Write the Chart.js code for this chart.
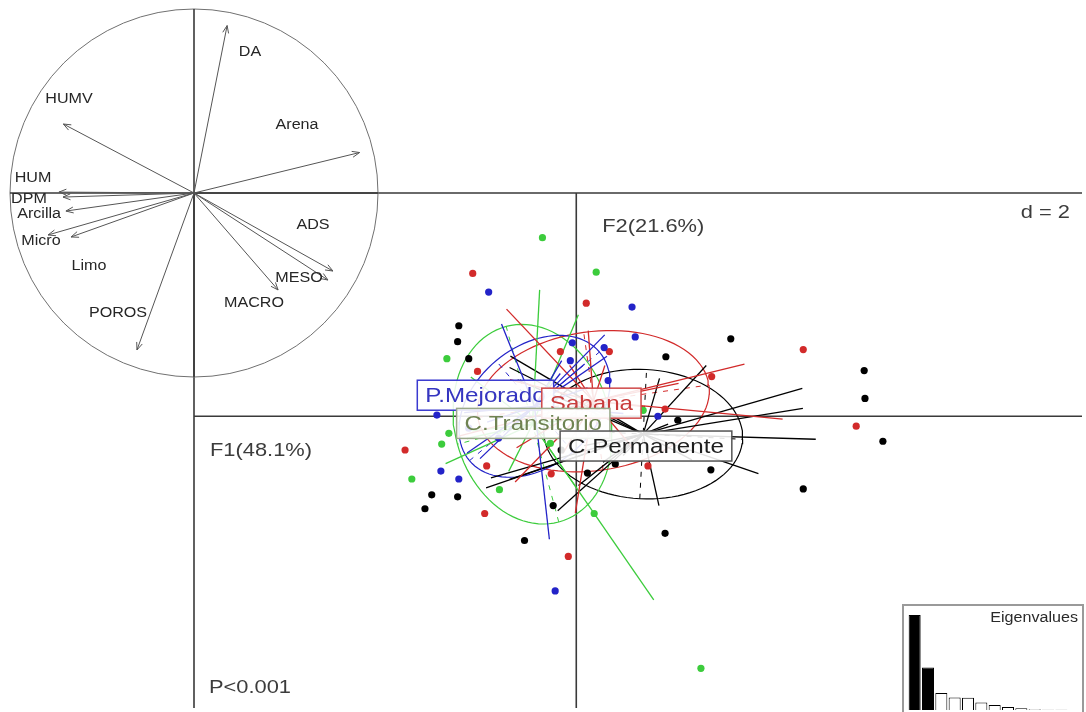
<!DOCTYPE html>
<html>
<head>
<meta charset="utf-8">
<script src="https://cdn.jsdelivr.net/npm/chart.js@4.4.1/dist/chart.umd.min.js"></script>
<style>
  html, body { margin: 0; padding: 0; background: #fff; }
  #wrap { position: relative; width: 1086px; height: 712px; overflow: hidden; background: #fff; }
  canvas { position: absolute; }
  #main { left: 0; top: 0; }
  #circle { left: 0; top: 0; }
  #eigen { left: 902px; top: 604px; }
</style>
</head>
<body>
<div id="wrap">
  <canvas id="main" width="1086" height="712"></canvas>
  <canvas id="circle" width="388" height="386"></canvas>
  <canvas id="eigen" width="184" height="108"></canvas>
</div>
<script>
// ---- class scores (F1, F2) per group ----
const groupNames = ['P.Mejorado', 'Sabana', 'C.Transitorio', 'C.Permanente'];

const pmX = [-2.20, 1.40, 1.48, -0.10, -0.15, 0.70, 0.80, -3.50, 2.05, -3.40, -2.95, -0.53, -2.70, -1.95];
const pmY = [3.13, 2.75, 2.00, 1.85, 1.40, 1.73, 0.90, 0.03, 0.00, -1.38, -1.58, -4.40, -0.30, -0.55];

const sabX = [-2.60, 0.25, 5.70, 7.03, -4.30, -2.30, -0.20, 2.23, 3.40, -2.25, -0.63, 1.80, -0.40, 0.83, -2.48];
const sabY = [3.60, 2.85, 1.68, -0.25, -0.85, -2.45, -3.53, 0.18, 1.00, -1.25, -1.45, -1.25, 1.63, 1.63, 1.13];

const ctX = [-0.85, 0.50, -3.25, -3.20, -3.38, -4.13, -1.93, 0.45, 3.13, -0.65, 1.68];
const ctY = [4.50, 3.63, 1.45, -0.43, -0.70, -1.58, -1.85, -2.45, -6.35, -0.68, 0.15];

const cpX = [-2.95, -2.98, -2.70, 3.88, 2.25, 7.23, 7.25, 7.70, 5.70, 3.38, -3.63, -2.98, -3.80, -0.58, -1.30, 2.23, 0.98, 0.28, 2.55, -0.38];
const cpY = [2.28, 1.88, 1.45, 1.95, 1.50, 1.15, 0.45, -0.63, -1.83, -1.35, -1.98, -2.03, -2.33, -2.25, -3.13, -2.95, -1.20, -1.43, -0.10, -0.85];

// group centroids and label anchors
const centroidX = [-1.05, 0.43, -1.10, 1.68];
const centroidY = [0.25, 0.38, -0.20, -0.45];
const labelX = [-2.28, 0.38, -1.08, 1.75];
const labelY = [0.53, 0.33, -0.18, -0.75];

// ellipse semi-axes and rotation (degrees)
const ellA = [2.13, 2.93, 2.55, 2.50];
const ellB = [1.50, 1.75, 1.95, 1.63];
const ellAngle = [40, 8, 105, -3];

// eigenvalues
const eigenValues = [5.77, 2.59, 1.03, 0.76, 0.74, 0.45, 0.30, 0.18, 0.11, 0.05, 0.01, 0.01];

// correlation circle
const varNames = ['DA', 'Arena', 'HUMV', 'HUM', 'DPM', 'Arcilla', 'Micro', 'Limo', 'POROS', 'MACRO', 'MESO', 'ADS'];
const varX = [0.18, 0.90, -0.71, -0.734, -0.712, -0.696, -0.793, -0.668, -0.31, 0.457, 0.728, 0.755];
const varY = [0.91, 0.22, 0.375, 0.005, -0.022, -0.098, -0.228, -0.239, -0.853, -0.527, -0.473, -0.424];
const varLabelX = [0.304, 0.560, -0.679, -0.875, -0.897, -0.842, -0.832, -0.571, -0.413, 0.326, 0.571, 0.647];
const varLabelY = [0.766, 0.370, 0.511, 0.082, -0.033, -0.114, -0.261, -0.397, -0.652, -0.598, -0.462, -0.174];

// ---- styles ----
const groupColors = ['#2323c8', '#d22a2a', '#3ccc3c', '#000000'];
const labelTextColors = ['#3535c0', '#c83c3c', '#6f8352', '#1e1e1e'];
const labelBoxColors = ['#3a3ad0', '#d04848', '#9aa88a', '#555555'];
const starFrac = 0.72;
const textStretch = 1.15;
const FONT = '"Liberation Sans", Arial, sans-serif';

function stretchText(ctx, txt, x, y, size, color, align, baseline) {
  ctx.save();
  ctx.font = size + 'px ' + FONT;
  ctx.fillStyle = color;
  ctx.textAlign = align || 'left';
  ctx.textBaseline = baseline || 'alphabetic';
  ctx.translate(x, y);
  ctx.scale(textStretch, 1);
  ctx.fillText(txt, 0, 0);
  ctx.restore();
}

function ellipsePoints(cx, cy, a, b, deg) {
  const t = deg * Math.PI / 180;
  const pts = [];
  for (let i = 0; i <= 96; i++) {
    const u = i / 96 * 2 * Math.PI;
    const ex = a * Math.cos(u), ey = b * Math.sin(u);
    pts.push({ x: cx + ex * Math.cos(t) - ey * Math.sin(t), y: cy + ex * Math.sin(t) + ey * Math.cos(t) });
  }
  return pts;
}

// ---- main scatter (s.class) ----
const groupX = [pmX, sabX, ctX, cpX];
const groupY = [pmY, sabY, ctY, cpY];
const datasets = [];

// points first so they sit on top
groupX.forEach((xs, g) => {
  datasets.push({
    data: xs.map((x, i) => ({ x: x, y: groupY[g][i] })),
    showLine: false,
    pointRadius: 3.6,
    pointBackgroundColor: groupColors[g],
    pointBorderColor: groupColors[g],
    pointBorderWidth: 0
  });
});

// stars
groupX.forEach((xs, g) => {
  const cx = centroidX[g], cy = centroidY[g];
  xs.forEach((x, i) => {
    const y = groupY[g][i];
    datasets.push({
      data: [{ x: cx, y: cy }, { x: cx + starFrac * (x - cx), y: cy + starFrac * (y - cy) }],
      showLine: true, pointRadius: 0, borderColor: groupColors[g], borderWidth: 1.3
    });
  });
});

// ellipses and their axes
groupNames.forEach((name, g) => {
  const cx = centroidX[g], cy = centroidY[g];
  datasets.push({
    data: ellipsePoints(cx, cy, ellA[g], ellB[g], ellAngle[g]),
    showLine: true, pointRadius: 0, borderColor: groupColors[g], borderWidth: 1.2, tension: 0
  });
  const t = ellAngle[g] * Math.PI / 180;
  const ux = Math.cos(t), uy = Math.sin(t);
  datasets.push({
    data: [{ x: cx - ellA[g] * ux, y: cy - ellA[g] * uy }, { x: cx + ellA[g] * ux, y: cy + ellA[g] * uy }],
    showLine: true, pointRadius: 0, borderColor: groupColors[g], borderWidth: 1, borderDash: [5, 6]
  });
  datasets.push({
    data: [{ x: cx + ellB[g] * uy, y: cy - ellB[g] * ux }, { x: cx - ellB[g] * uy, y: cy + ellB[g] * ux }],
    showLine: true, pointRadius: 0, borderColor: groupColors[g], borderWidth: 1, borderDash: [5, 6]
  });
});

const mainDecor = {
  id: 'mainDecor',
  beforeDatasetsDraw(chart) {
    const { ctx, chartArea: a, scales: { x, y } } = chart;
    const x0 = x.getPixelForValue(0), y0 = y.getPixelForValue(0);
    ctx.save();
    ctx.strokeStyle = '#3a3a3a';
    ctx.lineWidth = 1.6;
    ctx.beginPath();
    ctx.moveTo(a.left, y0); ctx.lineTo(a.right, y0);
    ctx.moveTo(x0, a.top); ctx.lineTo(x0, a.bottom);
    ctx.moveTo(a.left, a.top); ctx.lineTo(a.right, a.top);
    ctx.moveTo(a.left, a.top); ctx.lineTo(a.left, a.bottom);
    ctx.stroke();
    ctx.restore();
  },
  afterDatasetsDraw(chart) {
    const { ctx, chartArea: a, scales: { x, y } } = chart;
    const x0 = x.getPixelForValue(0), y0 = y.getPixelForValue(0);

    // class labels in boxes
    groupNames.forEach((name, g) => {
      const px = x.getPixelForValue(labelX[g]);
      const py = y.getPixelForValue(labelY[g]);
      ctx.save();
      ctx.font = '21px ' + FONT;
      const w = ctx.measureText(name).width * textStretch;
      const pad = 8, h = 30;
      ctx.fillStyle = 'rgba(255,255,255,0.88)';
      ctx.fillRect(px - w / 2 - pad, py - h / 2, w + 2 * pad, h);
      ctx.strokeStyle = labelBoxColors[g];
      ctx.lineWidth = 1.5;
      ctx.strokeRect(px - w / 2 - pad, py - h / 2, w + 2 * pad, h);
      ctx.restore();
      stretchText(ctx, name, px, py + 1, 21, labelTextColors[g], 'center', 'middle');
    });

    stretchText(ctx, 'F2(21.6%)', x0 + 26, a.top + 39, 19, '#3c3c3c', 'left');
    stretchText(ctx, 'd = 2', a.right - 12, a.top + 25, 19, '#3c3c3c', 'right');
    stretchText(ctx, 'F1(48.1%)', a.left + 16, y0 + 40, 19, '#3c3c3c', 'left');
    stretchText(ctx, 'P<0.001', a.left + 15, a.bottom - 15, 19, '#3c3c3c', 'left');
  }
};

new Chart(document.getElementById('main'), {
  type: 'scatter',
  data: { datasets: datasets },
  options: {
    responsive: false,
    animation: false,
    events: [],
    layout: { padding: { left: 194, top: 193, right: 0, bottom: 0 } },
    scales: {
      x: { type: 'linear', min: -9.6, max: 12.7, display: false },
      y: { type: 'linear', min: -7.35, max: 5.625, display: false }
    },
    plugins: { legend: { display: false }, tooltip: { enabled: false } }
  },
  plugins: [mainDecor]
});

// ---- correlation circle ----
const circleDecor = {
  id: 'circleDecor',
  beforeDatasetsDraw(chart) {
    const { ctx, scales: { x, y } } = chart;
    const cx = x.getPixelForValue(0), cy = y.getPixelForValue(0);
    const r = x.getPixelForValue(1) - cx;
    ctx.save();
    ctx.strokeStyle = '#707070';
    ctx.lineWidth = 1;
    ctx.beginPath();
    ctx.arc(cx, cy, r, 0, 2 * Math.PI);
    ctx.stroke();
    ctx.strokeStyle = '#3a3a3a';
    ctx.lineWidth = 1.6;
    ctx.beginPath();
    ctx.moveTo(cx - r, cy); ctx.lineTo(cx + r, cy);
    ctx.moveTo(cx, cy - r); ctx.lineTo(cx, cy + r);
    ctx.stroke();
    ctx.restore();
  },
  afterDatasetsDraw(chart) {
    const { ctx, scales: { x, y } } = chart;
    const ox = x.getPixelForValue(0), oy = y.getPixelForValue(0);
    ctx.save();
    ctx.strokeStyle = '#555';
    ctx.lineWidth = 1;
    varNames.forEach((v, i) => {
      const tx = x.getPixelForValue(varX[i]), ty = y.getPixelForValue(varY[i]);
      const ang = Math.atan2(ty - oy, tx - ox);
      const len = 8, spread = 0.38;
      ctx.beginPath();
      ctx.moveTo(tx - len * Math.cos(ang - spread), ty - len * Math.sin(ang - spread));
      ctx.lineTo(tx, ty);
      ctx.lineTo(tx - len * Math.cos(ang + spread), ty - len * Math.sin(ang + spread));
      ctx.stroke();
    });
    ctx.restore();
    varNames.forEach((v, i) => {
      stretchText(ctx, v, x.getPixelForValue(varLabelX[i]), y.getPixelForValue(varLabelY[i]),
        14, '#262626', 'center', 'middle');
    });
  }
};

new Chart(document.getElementById('circle'), {
  type: 'scatter',
  data: {
    datasets: varNames.map((v, i) => ({
      data: [{ x: 0, y: 0 }, { x: varX[i], y: varY[i] }],
      showLine: true, pointRadius: 0, borderColor: '#555', borderWidth: 1
    }))
  },
  options: {
    responsive: false,
    animation: false,
    events: [],
    layout: { padding: 0 },
    scales: {
      x: { type: 'linear', min: -194 / 184, max: 194 / 184, display: false },
      y: { type: 'linear', min: -193 / 184, max: 193 / 184, display: false }
    },
    plugins: { legend: { display: false }, tooltip: { enabled: false } }
  },
  plugins: [circleDecor]
});

// ---- eigenvalue inset ----
const eigenDecor = {
  id: 'eigenDecor',
  beforeDraw(chart) {
    const { ctx } = chart;
    ctx.save();
    ctx.fillStyle = '#fff';
    ctx.fillRect(0, 0, chart.width, chart.height);
    ctx.strokeStyle = '#9a9a9a';
    ctx.lineWidth = 2;
    ctx.strokeRect(1, 1, 180, 200);
    ctx.restore();
  },
  afterDatasetsDraw(chart) {
    stretchText(chart.ctx, 'Eigenvalues', 176, 18, 14, '#2a2a2a', 'right');
  }
};

new Chart(document.getElementById('eigen'), {
  type: 'bar',
  data: {
    labels: eigenValues.map((v, i) => i + 1),
    datasets: [{
      data: eigenValues,
      backgroundColor: eigenValues.map((v, i) => i < 2 ? '#000' : '#fff'),
      borderColor: '#000',
      borderWidth: 1,
      barPercentage: 0.9,
      categoryPercentage: 1
    }]
  },
  options: {
    responsive: false,
    animation: false,
    events: [],
    layout: { padding: { left: 6, right: 18, top: 2, bottom: 2 } },
    scales: {
      x: { display: false },
      y: { display: false, min: 0, max: 6.32 }
    },
    plugins: { legend: { display: false }, tooltip: { enabled: false } }
  },
  plugins: [eigenDecor]
});
</script>
</body>
</html>
